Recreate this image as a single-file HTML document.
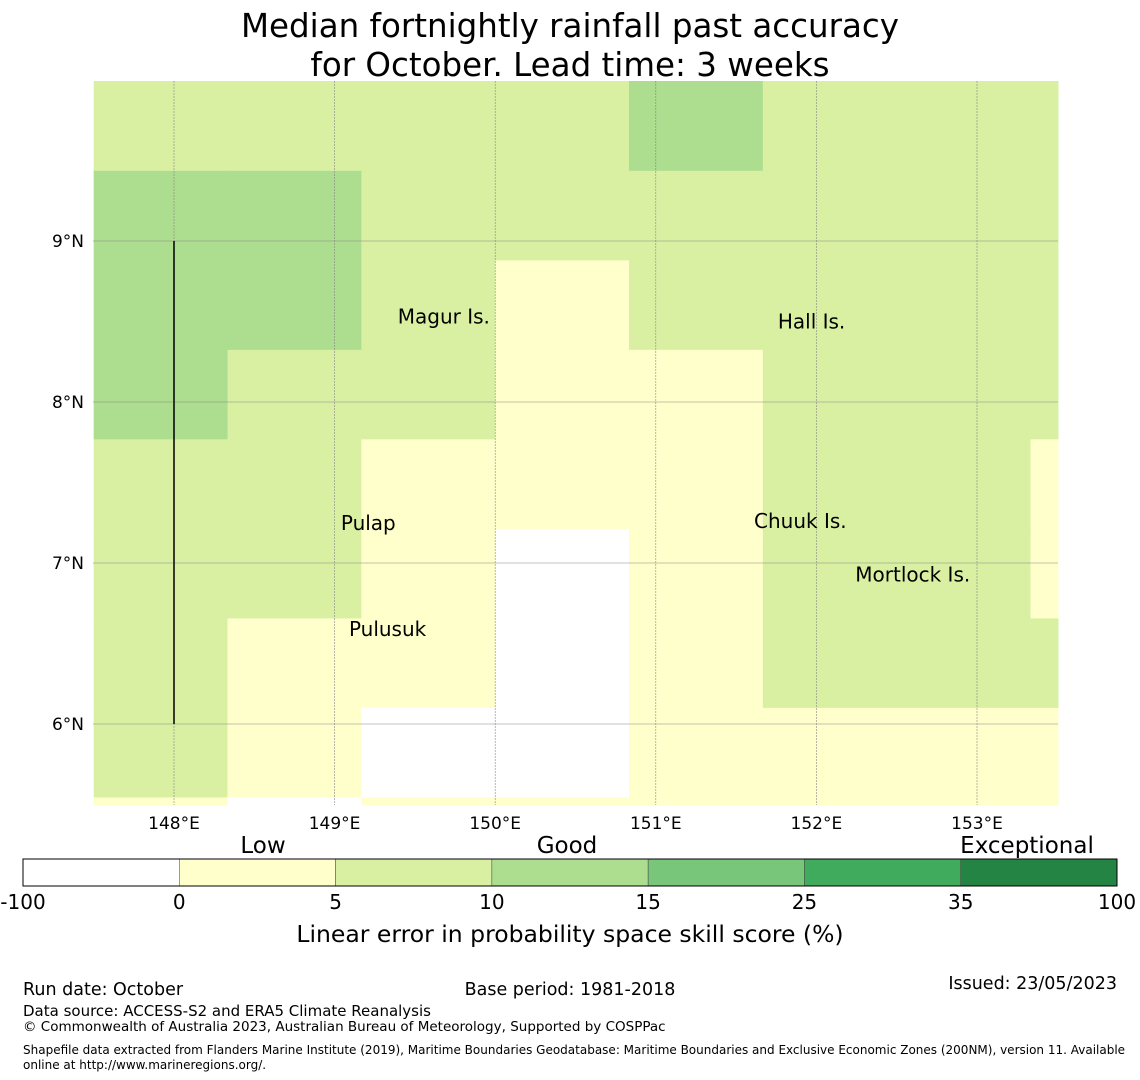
<!DOCTYPE html>
<html><head><meta charset="utf-8"><style>
html,body{margin:0;padding:0;background:#fff;}
svg{display:block;font-family:"DejaVu Sans","Liberation Sans",sans-serif;}
</style></head><body>
<svg id="chart" width="1140" height="1080" viewBox="0 0 1140 1080" xmlns="http://www.w3.org/2000/svg">
<text x="570" y="37" font-size="32.5" text-anchor="middle">Median fortnightly rainfall past accuracy</text>
<text x="570" y="76" font-size="32.5" text-anchor="middle">for October. Lead time: 3 weeks</text>
<g id="cells"></g>
<g id="grid"></g>
<g id="labels"></g>
<g id="cbar"></g>
<text x="263" y="853" font-size="23" text-anchor="middle">Low</text>
<text x="567" y="853" font-size="23" text-anchor="middle">Good</text>
<text x="1027" y="853" font-size="23" text-anchor="middle">Exceptional</text>
<text x="570" y="942" font-size="23.5" text-anchor="middle">Linear error in probability space skill score (%)</text>
<text x="23" y="995" font-size="17.5">Run date: October</text>
<text x="570" y="995" font-size="17.5" text-anchor="middle">Base period: 1981-2018</text>
<text x="1117" y="989" font-size="17.5" text-anchor="end">Issued: 23/05/2023</text>
<text x="23" y="1016" font-size="15">Data source: ACCESS-S2 and ERA5 Climate Reanalysis</text>
<text x="23" y="1031" font-size="13.5">© Commonwealth of Australia 2023, Australian Bureau of Meteorology, Supported by COSPPac</text>
<text x="23" y="1054" font-size="12">Shapefile data extracted from Flanders Marine Institute (2019), Maritime Boundaries Geodatabase: Maritime Boundaries and Exclusive Economic Zones (200NM), version 11. Available</text>
<text x="23" y="1069" font-size="12">online at http://www.marineregions.org/.</text>
</svg>
<script>
const skillRows = [
  [7,7,7,7,12,7,7,7],
  [12,12,7,7,7,7,7,7],
  [12,12,7,2,7,7,7,7],
  [12,7,7,2,2,7,7,7],
  [7,7,2,2,2,7,7,2],
  [7,7,2,-5,2,7,7,2],
  [7,2,2,-5,2,7,7,7],
  [7,2,-5,-5,2,2,2,2],
  [2,-5,2,2,2,2,2,2]
];
const binEdges = [-100,0,5,10,15,25,35,100];
const binColors = ["#ffffff","#ffffcc","#d9f0a3","#addd8e","#78c679","#41ab5d","#238443"];
const lonTicks = [148,149,150,151,152,153];
const latTicks = [9,8,7,6];
const placeNames = ["Magur Is.","Hall Is.","Pulap","Chuuk Is.","Mortlock Is.","Pulusuk"];
const placeLons = [149.68,151.97,149.21,151.9,152.6,149.33];
const placeLats = [8.53,8.5,7.25,7.26,6.93,6.59];
const cellLon0 = 147.5, cellW = 0.8333, lat0 = 9.436, cellH = 0.556;

const X = lon => 174 + (lon - 148) * 160.6;
const Y = lat => 241 + (9 - lat) * 161;
const NS = "http://www.w3.org/2000/svg";
function mk(tag, attrs, parent){const e=document.createElementNS(NS,tag);for(const k in attrs)e.setAttribute(k,attrs[k]);parent.appendChild(e);return e;}
function colorFor(v){for(let i=0;i<binColors.length;i++){if(v<binEdges[i+1])return binColors[i];}return binColors[binColors.length-1];}

const pLeft=93,pRight=1058,pTop=81,pBottom=805;
const cellsG=document.getElementById('cells');
skillRows.forEach((row,r)=>{
  const yT = r===0 ? pTop : Y(lat0-(r-1)*cellH);
  const yB = Math.min(pBottom, Y(lat0-r*cellH));
  row.forEach((v,c)=>{
    const xL=X(cellLon0+c*cellW), xR=Math.min(pRight,X(cellLon0+(c+1)*cellW));
    const e=mk('rect',{x:xL,y:yT,width:xR-xL+0.5,height:yB-yT+0.5,fill:colorFor(v)},cellsG);
    
    
  });
});
const gridG=document.getElementById('grid');
lonTicks.forEach(l=>{
  const e=mk('line',{x1:X(l),x2:X(l),y1:pTop,y2:pBottom,stroke:"#888",'stroke-width':0.6,'stroke-dasharray':"2,1"},gridG);
  
  
  const t=mk('text',{x:X(l),y:829,'font-size':17,'text-anchor':'middle'},gridG);t.textContent=l+"°E";
  
  
});
latTicks.forEach(l=>{
  const e=mk('line',{x1:pLeft,x2:pRight,y1:Y(l),y2:Y(l),stroke:"#888",'stroke-width':0.6},gridG);
  
  
  const t=mk('text',{x:84,y:Y(l)+6,'font-size':17,'text-anchor':'end'},gridG);t.textContent=l+"°N";
  
  
});
const bl=mk('line',{x1:X(148),x2:X(148),y1:Y(9),y2:Y(6),stroke:"#000",'stroke-width':1.5},gridG);


const labelsG=document.getElementById('labels');
placeNames.forEach((n,i)=>{
  const t=mk('text',{x:X(placeLons[i]),y:Y(placeLats[i])+7,'font-size':20,'text-anchor':'middle'},labelsG);t.textContent=n;
  
  
});
const cb=document.getElementById('cbar');
const cbL=23,cbR=1117,cbT=859,cbB=886,segW=(cbR-cbL)/binColors.length;
binColors.forEach((col,i)=>{
  const e=mk('rect',{x:cbL+i*segW,y:cbT,width:segW,height:cbB-cbT,fill:col,stroke:"#444",'stroke-width':0.5},cb);
  
  
});
mk('rect',{x:cbL,y:cbT,width:cbR-cbL,height:cbB-cbT,fill:'none',stroke:'#000','stroke-width':1},cb);
binEdges.forEach((v,i)=>{
  const t=mk('text',{x:cbL+i*segW,y:909,'font-size':20,'text-anchor':'middle'},cb);t.textContent=v;
  
  
});
</script>
</body></html>
